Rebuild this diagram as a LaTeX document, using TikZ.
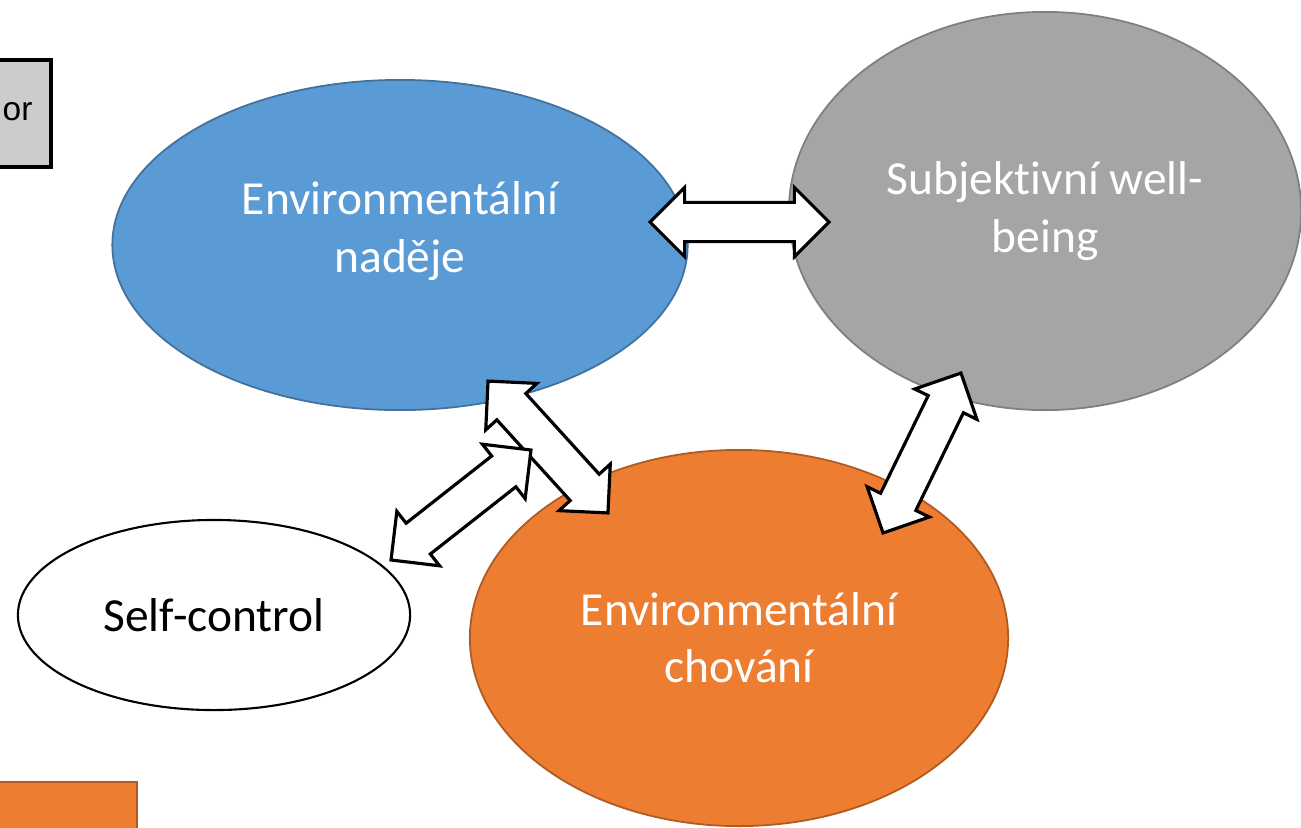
\documentclass[tikz,border=0pt]{standalone}
\usepackage{fontspec}
\setmainfont{Carlito}[Ligatures=NoCommon]
\newfontfamily\arialfont{Liberation Sans}
\usetikzlibrary{calc,shapes.geometric,shapes.arrows}

\definecolor{hopeblue}{HTML}{5B9BD5}
\definecolor{hopeline}{HTML}{41719C}
\definecolor{wellgray}{HTML}{A5A5A5}
\definecolor{wellline}{HTML}{7F7F7F}
\definecolor{behavorange}{HTML}{ED7D31}
\definecolor{behavline}{HTML}{AE5A21}
\definecolor{boxgray}{HTML}{CCCCCC}

\tikzset{
  bubble/.style={ellipse, line width=0.5pt, inner sep=0pt, align=center,
    font=\fontsize{13.5}{16.3}\selectfont},
  blockarrow/.style={double arrow, draw=black, fill=white, line width=0.9pt,
    double arrow head extend=0.15cm, double arrow tip angle=90,
    inner xsep=0pt, inner ysep=0.18cm, minimum width=0pt},
}
% double block arrow between two tips
\def\dblarrow#1(#2)(#3){\path let \p1=($(#3)-(#2)$), \n1={atan2(\y1,\x1)}, \n2={veclen(\x1,\y1)} in node[blockarrow, rotate=\n1, minimum height=\n2] (#1) at ($(#2)!0.5!(#3)$) {};}

\begin{document}
\begin{tikzpicture}[x=0.01cm, y=-0.01cm]
			%%%%% START %%%%%
			\useasboundingbox (0, 0) rectangle (1301, 827);
			
			\draw[line width=0.04cm, fill=boxgray] (-40, 60) rectangle (51, 167);
			\node[font=\arialfont\fontsize{9.5}{12}\selectfont, text=black, anchor=base west, inner sep=0pt] (boxtxt) at (2, 120) {or};
			
			\draw[line width=0.02cm, draw=behavline, fill=behavorange] (-40, 782) rectangle (137, 870);
			
			\node[bubble, fill=hopeblue, draw=hopeline, minimum width=5.75cm, minimum height=3.3cm] (hope) at (400, 245) {};
			\node[bubble, text=white] (hopetxt) at (400, 231) {Environmentální\\naděje};
			
			\node[bubble, fill=wellgray, draw=wellline, text=white, minimum width=5.12cm, minimum height=3.98cm] (wellbeing) at (1045, 211) {Subjektivní well-\\being};
			
			\node[bubble, fill=behavorange, draw=behavline, text=white, minimum width=5.38cm, minimum height=3.76cm] (behav) at (739, 638) {Environmentální\\chování};
			
			\node[bubble, fill=white, draw=black, line width=0.6pt, minimum width=3.92cm, minimum height=1.9cm] (selfctrl) at (214, 615) {Self-control};
			
			\coordinate (hw1) at (650, 222);
			\coordinate (hw2) at (829, 222);
			\coordinate (hb1) at (488, 381);
			\coordinate (hb2) at (608, 513);
			\coordinate (sh1) at (391, 560);
			\coordinate (sh2) at (531, 450);
			\coordinate (bw1) at (883, 533);
			\coordinate (bw2) at (961, 373);
			
			\dblarrow{hopewell}(hw1)(hw2)
			\dblarrow{hopebehav}(hb1)(hb2)
			\dblarrow{selfhope}(sh1)(sh2)
			\dblarrow{behavwell}(bw1)(bw2)
			
			%%%%% END %%%%%
\end{tikzpicture}
\end{document}
